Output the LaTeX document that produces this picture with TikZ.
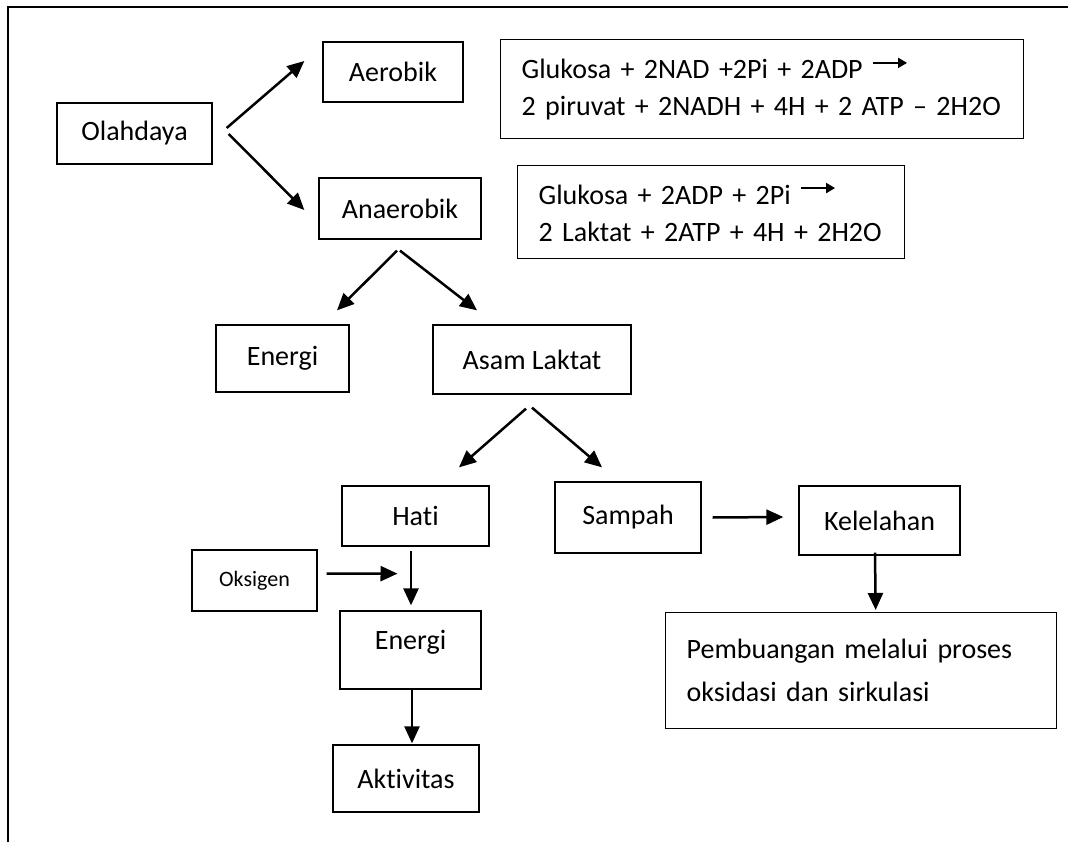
\documentclass[tikz,border=0pt]{standalone}
\usepackage{fontspec}
\setmainfont{Carlito}[Ligatures=NoCommon]
\usetikzlibrary{calc,arrows.meta,positioning}
\tikzset{
    box/.style = {draw, rectangle, line width=1.3pt, inner sep=0pt,
        align=center, font=\fontsize{28}{34}\selectfont},
    eqbox/.style = {box, anchor=north west, align=left, inner xsep=21pt,
        font=\fontsize{28}{37}\selectfont},
    arrow/.style = {draw, line width=2.5pt, -{Triangle[length=17pt,width=15pt]}},
    frame/.style = {draw, line width=2pt}
}
\def\yields{%
    \tikz[baseline=-16pt] \draw [line width=2pt,-{Triangle[length=9pt,width=10pt]}] (0pt,0pt) -- (34pt,0pt);%
}

\begin{document}
\begin{tikzpicture}[x=1pt, y=-1pt]
    \useasboundingbox (0,0) rectangle (1068,842);
    \draw [frame] (8,842) -- (8,7) -- (1068,7);
    \node [box, minimum width=155pt, minimum height=61pt] (olahdaya) at (134.5,133.5) {Olahdaya};
    \node [box, minimum width=140pt, minimum height=60pt] (aerob) at (393,72) {Aerobik};
    \node [box, minimum width=162pt, minimum height=61pt] (anaerob) at (400,208.5) {Anaerobik};
    \node [eqbox, text width=481pt, minimum height=99pt] (eqaerob) at (500,39)
        {Glukosa + 2NAD +2Pi + 2ADP \yields\\2 piruvat + 2NADH + 4H + 2 ATP -- 2H2O};
    \node [eqbox, text width=345pt, minimum height=93pt] (eqanaerob) at (517,165)
        {Glukosa + 2ADP + 2Pi \yields\\2 Laktat + 2ATP + 4H + 2H2O};
    \node [box, minimum width=133pt, minimum height=67pt] (energi1) at (282.5,358.5) {Energi};
    \node [box, minimum width=198pt, minimum height=69pt] (laktat) at (532,359.5) {Asam Laktat};
    \node [box, minimum width=147pt, minimum height=60pt] (hati) at (415.5,516) {Hati};
    \node [box, minimum width=146pt, minimum height=71pt] (sampah) at (628,517.5) {Sampah};
    \node [box, minimum width=161pt, minimum height=69pt] (lelah) at (879.5,520.5) {Kelelahan};
    \node [box, minimum width=125pt, minimum height=61pt, font=\fontsize{22}{26}\selectfont] (oksigen) at (254.5,580.5) {Oksigen};
    \node [box, minimum width=141pt, minimum height=78pt, text depth=21pt] (energi2) at (410.5,650) {Energi};
    \node [box, minimum width=146pt, minimum height=67pt] (aktivitas) at (406,778.5) {Aktivitas};
    \node [eqbox, text width=349pt, minimum height=116pt, font=\fontsize{28}{43}\selectfont] (buang) at (665,612)
        {Pembuangan melalui proses\\oksidasi dan sirkulasi};
    \draw [arrow] ($(olahdaya.east)+(14,-5.5)$) -- ($(aerob.west)+(-18,-11)$);
    \draw [arrow] ($(olahdaya.east)+(16,0.5)$) -- ($(anaerob.west)+(-14,1.5)$);
    \draw [arrow] ($(anaerob.south)+(-3,11)$) -- ($(energi1.north)+(54.5,-14)$);
    \draw [arrow] ($(anaerob.south)+(0,11)$) -- ($(laktat.north)+(-55,-14)$);
    \draw [arrow] ($(laktat.south)+(-6,14)$) -- ($(hati.north)+(43.5,-18)$);
    \draw [arrow] ($(laktat.south)+(0,13)$) -- ($(sampah.north)+(-26,-14)$);
    \draw [arrow] ($(oksigen.east)+(9,-7)$) -- ($(hati.south)+(-18,27)$);
    \draw [arrow] ($(hati.south)+(-4.5,4)$) -- ($(energi2.north)+(0.5,-5)$);
    \draw [arrow] ($(energi2.south)+(1.5,0)$) -- ($(aktivitas.north)+(6,-1)$);
    \draw [arrow] ($(sampah.east)+(11,0)$) -- ($(lelah.west)+(-15,-3.5)$);
    \draw [arrow] ($(lelah.south)+(-4.5,-3)$) -- ($(buang.north)+(14.5,-2)$);
\end{tikzpicture}
\end{document}
